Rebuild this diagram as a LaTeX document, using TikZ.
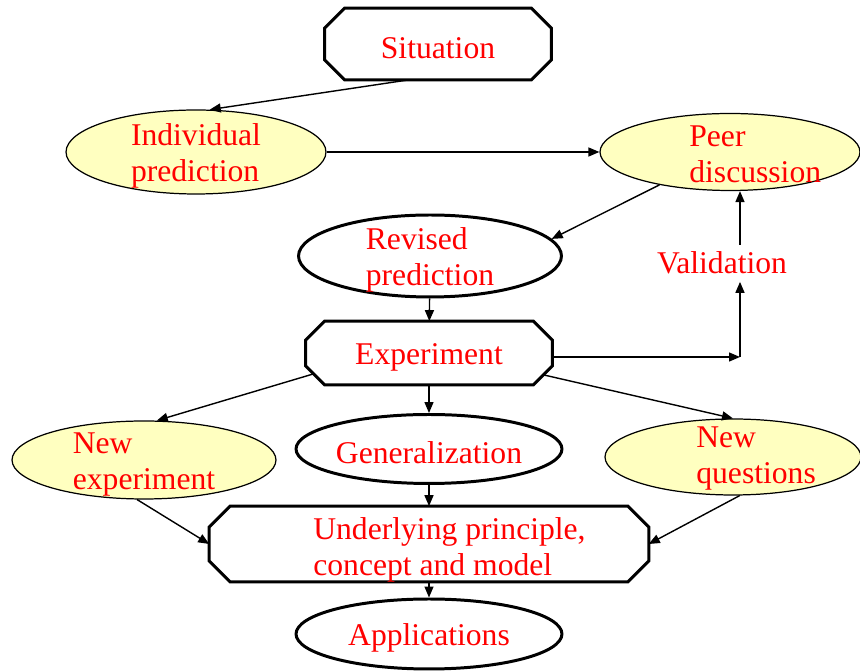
\documentclass[tikz,border=0pt]{standalone}
\usepackage{fontspec}
\setmainfont{Liberation Serif}
\usepackage{tikz}
\usetikzlibrary{arrows.meta,shapes.geometric}
\definecolor{paleyellow}{HTML}{FFFFC0}
\newcommand\lift{\rule{0pt}{0.6cm}}

\begin{document}
\begin{tikzpicture}[x=0.02cm,y=-0.02cm,>={Triangle[length=2.2mm,width=1.8mm]},
  txt/.style={text=red,font=\fontsize{18}{20.5}\selectfont,align=left,inner sep=0pt},
  octa/.style={rectangle,txt,append after command={\pgfextra{
    \draw[line width=1.7pt]
      ([xshift=#1]\tikzlastnode.north west) -- ([xshift=-#1]\tikzlastnode.north east)
      -- ([yshift=-#1]\tikzlastnode.north east) -- ([yshift=#1]\tikzlastnode.south east)
      -- ([xshift=-#1]\tikzlastnode.south east) -- ([xshift=#1]\tikzlastnode.south west)
      -- ([yshift=#1]\tikzlastnode.south west) -- ([yshift=-#1]\tikzlastnode.north west)
      -- cycle;}}},
  octa/.default=0.4cm,
  oval/.style={ellipse,draw,line width=1.7pt,txt,inner ysep=-0.5cm},
  idea/.style={ellipse,draw,line width=0.7pt,fill=paleyellow,txt,inner ysep=-0.5cm},
  link/.style={->,line width=0.8pt}]
  \useasboundingbox (0,0) rectangle (860,671);
  \node[octa,minimum width=4.52cm,minimum height=1.42cm] (situation) at (438,44) {\lift Situation};
  \node[idea,minimum width=5.2cm,minimum height=1.68cm] (indiv) at (196,152) {\lift Individual\\prediction};
  \node[idea,minimum width=5.2cm,minimum height=1.54cm] (peer) at (730,152) {};
  \node[txt,anchor=west] (peertext) at (689,154) {Peer\\discussion};
  \node[oval,minimum width=5.26cm,minimum height=1.64cm] (revised) at (430,256) {\lift Revised\\prediction};
  \node[txt,inner sep=4pt,anchor=base] (validation) at (722,274) {Validation};
  \node[octa=0.38cm,minimum width=4.92cm,minimum height=1.26cm] (experiment) at (429,353) {\lift Experiment};
  \node[idea,minimum width=5.28cm,minimum height=1.56cm] (newexp) at (144,460) {\lift New\\experiment};
  \node[oval,minimum width=5.32cm,minimum height=1.38cm] (general) at (429,449) {\lift Generalization};
  \node[idea,minimum width=5.12cm,minimum height=1.52cm] (newq) at (733,457) {};
  \node[txt,anchor=west] (newqtext) at (696,459) {New\\questions};
  \node[octa=0.42cm,minimum width=8.78cm,minimum height=1.5cm] (principle) at (429,544) {};
  \node[txt,anchor=west] (principletext) at (313,550) {Underlying principle,\\concept and model};
  \node[oval,minimum width=5.32cm,minimum height=1.4cm] (applic) at (429,634) {\lift Applications};
  \coordinate (bend) at (740,357);

  \draw[link] (situation.-129) -- (indiv.72);
  \draw[link] (indiv) -- (peer);
  \draw[link] (peer.-155) -- (revised.8);
  \draw[link] (revised) -- (experiment);
  \draw[link] (experiment.east |- bend) -- (bend);
  \draw[link] (bend) -- (bend |- validation.south);
  \draw[link] (bend |- validation.north) -- (bend |- peer.south);
  \draw[link] ([xshift=0.16cm,yshift=0.22cm]experiment.south west) -- (newexp.72);
  \draw[link] ([xshift=-0.18cm,yshift=0.2cm]experiment.south east) -- (newq.north);
  \draw[link] (experiment) -- (general);
  \draw[link] (general) -- (principle);
  \draw[link] (newexp.-100) -- (principle.west);
  \draw[link] (newq.-80) -- (principle.east);
  \draw[link] (principle) -- (applic);
\end{tikzpicture}
\end{document}
